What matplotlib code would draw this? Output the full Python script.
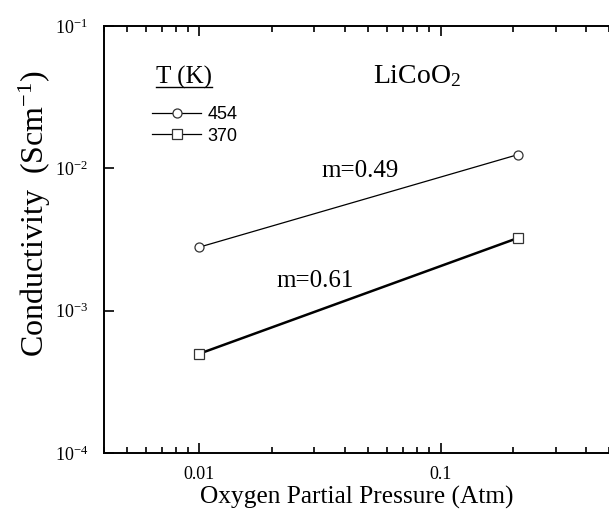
import matplotlib.pyplot as plt
from matplotlib.lines import Line2D

# data
pressure = [0.01, 0.21]           # atm
sigma_454 = [2.8e-3, 1.25e-2]     # S/cm
sigma_370 = [5.0e-4, 3.25e-3]     # S/cm
temps = ["454", "370"]
slopes = ["m=0.49", "m=0.61"]

serif = "Liberation Serif"
sans = "Liberation Sans"

plt.rcParams["mathtext.fontset"] = "custom"
plt.rcParams["mathtext.rm"] = serif
plt.rcParams["mathtext.it"] = serif

fig = plt.figure(figsize=(6.09, 5.18), dpi=100)
ax = fig.add_axes([0.170, 0.125, 0.83, 0.825])

ax.plot(pressure, sigma_454, color="black", lw=0.9, marker="o", ms=6.5,
        mfc="white", mec="#333333", mew=0.9)
ax.plot(pressure, sigma_370, color="black", lw=1.8, marker="s", ms=6.5,
        mfc="white", mec="#333333", mew=0.9)

ax.set_xscale("log")
ax.set_yscale("log")
ax.set_xlim(0.004, 0.5)
ax.set_ylim(1e-4, 1e-1)

ax.set_xticks([0.01, 0.1])
ax.set_xticklabels(["0.01", "0.1"], family=serif, fontsize=13)
ax.set_yticks([1e-4, 1e-3, 1e-2, 1e-1])
ax.set_yticklabels([r"10$^{-4}$", r"10$^{-3}$", r"10$^{-2}$", r"10$^{-1}$"],
                   family=serif, fontsize=13)
ax.yaxis.set_minor_locator(plt.NullLocator())
ax.tick_params(which="both", direction="in", top=True, right=False,
               width=1.2)
ax.tick_params(which="major", length=7, pad=9)
ax.tick_params(which="minor", length=4)
ax.tick_params(axis="y", pad=11)
for s in ["left", "top", "bottom"]:
    ax.spines[s].set_linewidth(1.4)
ax.spines["right"].set_visible(False)

ax.set_xlabel("Oxygen Partial Pressure (Atm)", family=serif, fontsize=18.3,
              labelpad=2)
ax.set_ylabel(r"Conductivity  (Scm$^{\mathregular{-1}}$)", family=serif,
              fontsize=23)
ax.yaxis.set_label_coords(-0.10, 0.56)

ax.text(0.533, 0.866, r"LiCoO$_{\mathregular{2}}$", transform=ax.transAxes,
        family=serif, fontsize=20, va="baseline")
ax.text(0.432, 0.646, slopes[0], transform=ax.transAxes,
        family=serif, fontsize=18, va="baseline")
ax.text(0.343, 0.389, slopes[1], transform=ax.transAxes,
        family=serif, fontsize=18, va="baseline")

# legend
ax.text(0.104, 0.864, "T (K)", transform=ax.transAxes, family=serif,
        fontsize=18, va="baseline")
ax.plot([0.104, 0.215], [0.857, 0.857], transform=ax.transAxes,
        color="black", lw=1.0, clip_on=False)
handles = [
    Line2D([], [], color="black", lw=0.9, marker="o", ms=6.5, mfc="white",
           mec="#333333", mew=0.9),
    Line2D([], [], color="black", lw=0.9, marker="s", ms=6.5, mfc="white",
           mec="#333333", mew=0.9),
]
ax.legend(handles, temps, loc="upper left", bbox_to_anchor=(0.082, 0.829),
          frameon=False, prop={"family": sans, "size": 13},
          handlelength=2.73, handletextpad=0.35, labelspacing=0.25,
          borderaxespad=0)

fig.savefig("out.png", dpi=100)
